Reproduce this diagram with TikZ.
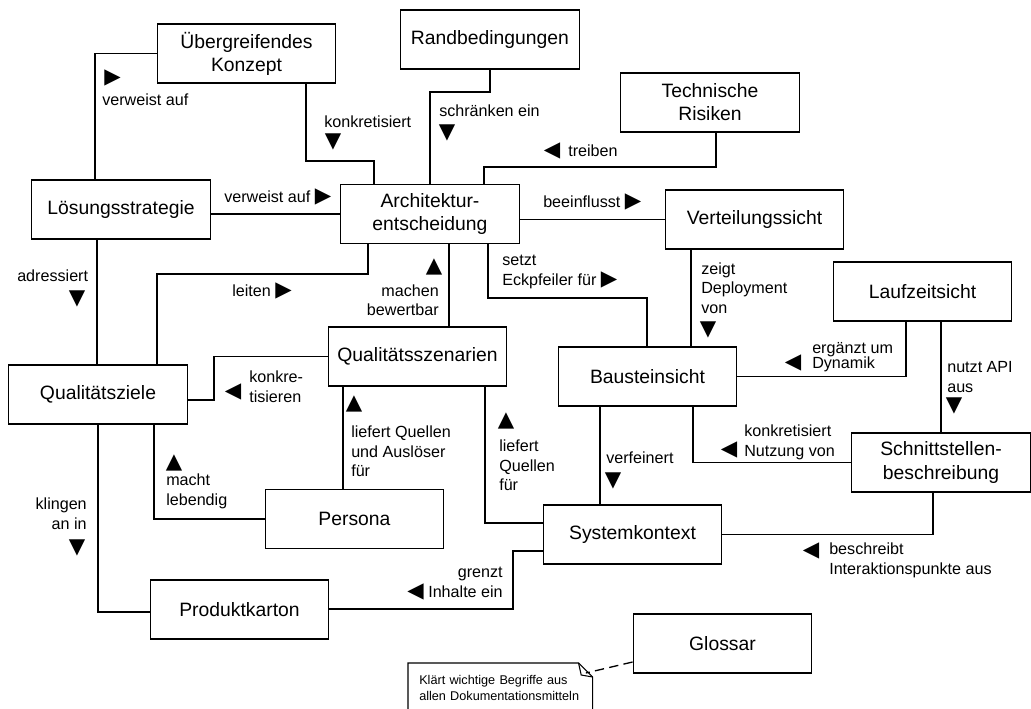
\documentclass[tikz,border=0pt]{standalone}
\usepackage{fontspec}
\setmainfont{Liberation Sans}
\newfontfamily\dvs{DejaVu Sans}
\newcommand\tri[1]{{\fontsize{16}{14}\dvs #1}}
\begin{document}
\begin{tikzpicture}[x=0.75pt,y=-0.75pt,
  box/.style={draw, line width=1pt, minimum width=133.9pt, minimum height=44.3pt, inner sep=0pt, align=center, font=\fontsize{14.5}{17.3}\selectfont},
  lbl/.style={inner sep=0pt, align=left, anchor=west, font=\fontsize{12.1}{14.6}\selectfont},
  lblr/.style={lbl, align=right, anchor=east},
  mk/.style={inner sep=0pt, font=\fontsize{16}{16}\dvs},
  conn/.style={line width=1pt}]
\fill[white] (0,0) rectangle (1031,709);
\useasboundingbox (0,0) rectangle (1031,709);
\clip (0,0) rectangle (1031,709);

% boxes
\node[box] (UK) at (246.5,53.5) {Übergreifendes\\Konzept};
\node[box] (RB) at (490,39.5) {Randbedingungen};
\node[box] (TR) at (710,102.5) {Technische\\Risiken};
\node[box] (LS) at (121,209.5) {Lösungsstrategie};
\node[box] (AE) at (430,214) {Architektur-\\entscheidung};
\node[box] (VS) at (754.5,219.5) {Verteilungssicht};
\node[box] (LZ) at (922.5,291.5) {Laufzeitsicht};
\node[box] (QS) at (417.5,356.5) {Qualitätsszenarien};
\node[box] (BS) at (647.5,376.5) {Bausteinsicht};
\node[box] (QZ) at (98,394.5) {Qualitätsziele};
\node[box] (SS) at (941,462.5) {Schnittstellen-\\beschreibung};
\node[box] (PE) at (354.5,519) {Persona};
\node[box] (SK) at (632.5,534.5) {Systemkontext};
\node[box] (PK) at (239.5,609.5) {Produktkarton};
\node[box] (GL) at (722.5,643.5) {Glossar};

% note
\node[anchor=north west, inner xsep=8.25pt, inner ysep=0pt, minimum height=37.5pt, text width=121.5pt, align=left, font=\fontsize{9.5}{12}\selectfont] (note) at (408,663) {Klärt wichtige Begriffe aus\\allen Dokumentationsmitteln};
\draw[line width=0.8pt] (note.south west) -- (note.north west) -- ([xshift=-10.5pt]note.north east) -- ([yshift=-10.5pt]note.north east) -- (note.south east);
\draw[line width=0.8pt] ([xshift=-10.5pt]note.north east) -- ([xshift=-8.5pt,yshift=-9pt]note.north east) -- ([yshift=-10.5pt]note.north east);

% connectors
\draw[conn] (LS.north -| 95,0) |- (UK.west);
\draw[conn] (UK.south -| 306,0) |- (374,161) -- (AE.north -| 374,0);
\draw[conn] (RB.south) |- (430,92) -- (AE.north -| 430,0);
\draw[conn] (TR.south -| 716,0) |- (484,167) -- (AE.north -| 484,0);
\draw[conn] (LS.east |- AE.west) -- (AE.west);
\draw[conn] (AE.east |- VS.west) -- (VS.west);
\draw[conn] (AE.south -| 368,0) |- (157,274) -- (QZ.north -| 157,0);
\draw[conn] (AE.south -| 449,0) -- (QS.north -| 449,0);
\draw[conn] (AE.south -| 488,0) |- (647,298) -- (BS.north -| 647,0);
\draw[conn] (VS.south -| 691,0) -- (BS.north -| 691,0);
\draw[conn] (LZ.south -| 906,0) |- (BS.east);
\draw[conn] (LZ.south -| SS.north) -- (SS.north);
\draw[conn] (BS.south -| 693,0) |- (SS.west);
\draw[conn] (BS.south -| 600,0) -- (SK.north -| 600,0);
\draw[conn] (SS.south -| 933,0) |- (SK.east);
\draw[conn] (LS.south -| 97,0) -- (QZ.north -| 97,0);
\draw[conn] (QS.west) -| (214,400) -- (QZ.east |- 0,400);
\draw[conn] (QZ.south -| 154,0) |- (PE.west);
\draw[conn] (QZ.south -| 98,0) |- (PK.west |- 0,612);
\draw[conn] (QS.south -| 343,0) -- (PE.north -| 343,0);
\draw[conn] (QS.south -| 485,0) |- (SK.west |- 0,523);
\draw[conn] (PK.east |- 0,609) -| (513,551) -- (SK.west |- 0,551);
\draw[conn, dash pattern=on 7pt off 4pt] (GL.west |- 0,662) -- ([xshift=-5pt,yshift=-7.5pt]note.north east);

% labels
\node[mk] (m1) at (112.5,78) {▶};
\node[lbl] (l1) at (102,100) {verweist auf};
\node[lbl] (l2) at (324,122) {konkretisiert};
\node[mk] (m2) at (333,142) {▼};
\node[lbl] (l3) at (439,111) {schränken ein};
\node[mk] (m3) at (447,133) {▼};
\node[mk] (m4) at (552,151) {◀};
\node[lbl] (l4) at (568,151) {treiben};
\node[lbl] (l5) at (224,197) {verweist auf \tri{▶}};
\node[lbl] (l6) at (543,202) {beeinflusst \tri{▶}};
\node[lbl] (l7) at (232,291) {leiten \tri{▶}};
\node[mk] (m8) at (434,267) {▲};
\node[lblr] (l8) at (439,300.5) {machen\\bewertbar};
\node[lbl] (l9) at (502,272) {setzt\\Eckpfeiler für \tri{▶}};
\node[lbl] (l10) at (701,288) {zeigt\\Deployment\\von};
\node[mk] (m10) at (708,330) {▼};
\node[mk] (m11) at (793,363) {◀};
\node[lbl, font=\fontsize{12.1}{11.3}\selectfont] (l11) at (812,357.5) {ergänzt um\\Dynamik};
\node[lbl] (l12) at (947,377) {nutzt API\\aus};
\node[mk] (m12) at (954,406) {▼};
\node[mk] (m13) at (729,450) {◀};
\node[lbl] (l13) at (744,442.5) {konkretisiert\\Nutzung von};
\node[lbl] (l14) at (606,458) {verfeinert};
\node[mk] (m14) at (613,481) {▼};
\node[mk] (m15) at (811,551) {◀};
\node[lbl] (l15) at (829,560.5) {beschreibt\\Interaktionspunkte aus};
\node[mk] (m16) at (233,392) {◀};
\node[lbl] (l16) at (249,386.5) {konkre-\\tisieren};
\node[mk] (m17) at (174,463) {▲};
\node[lbl] (l17) at (166,491.5) {macht\\lebendig};
\node[lblr] (l18) at (87,513.5) {klingen\\an in};
\node[mk] (m18) at (77,548) {▼};
\node[mk] (m19) at (354,404) {▲};
\node[lbl] (l19) at (351,451.5) {liefert Quellen\\und Auslöser\\für};
\node[mk] (m20) at (506,421) {▲};
\node[lbl] (l20) at (499,465.5) {liefert\\Quellen\\für};
\node[lblr] (l21) at (503,583.5) {grenzt\\\tri{◀} Inhalte ein};
\node[lbl] (l22) at (17,276) {adressiert};
\node[mk] (m22) at (77,299) {▼};
\end{tikzpicture}
\end{document}
